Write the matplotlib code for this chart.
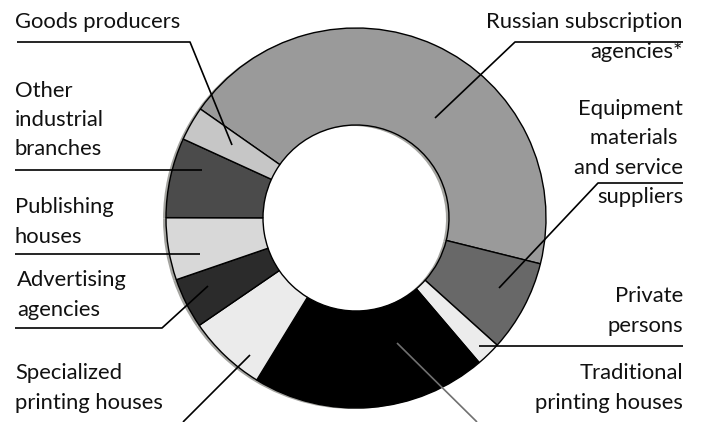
import matplotlib
matplotlib.use('Agg')
import matplotlib.pyplot as plt

labels = ['Russian subscription agencies*', 'Equipment materials and service suppliers',
          'Private persons', 'Traditional printing houses', 'Specialized printing houses',
          'Advertising agencies', 'Publishing houses', 'Other industrial branches',
          'Goods producers']
shares = [44.2, 7.8, 2.1, 20.0, 6.7, 4.3, 5.3, 6.8, 2.9]
colors = ['#9a9a9a', '#686868', '#ececec', '#000000', '#ebebeb',
          '#2b2b2b', '#d8d8d8', '#4b4b4b', '#c6c6c6']

W, H = 703, 422
fig = plt.figure(figsize=(W / 100, H / 100), dpi=100)
ax = fig.add_axes([0, 0, 1, 1])

cx, cy, r_out, r_in = 356, H - 218, 190, 93

def Y(y):  # image row -> data y
    return H - y

# soft shadow to the left of the ring
ax.pie(shares, colors=['#a4a4a0'] * len(shares), radius=r_out, center=(cx - 3, cy - 1),
       startangle=145, counterclock=False,
       wedgeprops=dict(width=r_out - r_in, linewidth=0))
ax.pie(shares, colors=colors, radius=r_out, center=(cx, cy),
       startangle=145, counterclock=False,
       wedgeprops=dict(width=r_out - r_in, edgecolor='black', linewidth=1.0))

ax.set_xlim(0, W)
ax.set_ylim(0, H)
ax.set_aspect('equal')
ax.axis('off')

font = dict(family='Lato', fontsize=15.8, color='#111111', linespacing=1.58)
lw = 1.2

def line(xs, ys, c='black'):
    ax.plot(xs, [Y(v) for v in ys], color=c, lw=lw, solid_capstyle='butt')

# left side
ax.text(15, Y(22), 'Goods producers', ha='left', va='center', **font)
line([17, 190, 232], [42, 42, 145])

ax.text(15, Y(120), 'Other\nindustrial\nbranches', ha='left', va='center', **font)
line([15, 202], [170, 170])

ax.text(15, Y(222), 'Publishing\nhouses', ha='left', va='center', **font)
line([15, 200], [254, 254])

ax.text(17, Y(295), 'Advertising\nagencies', ha='left', va='center', **font)
line([15, 162, 208], [328, 328, 286])

ax.text(15, Y(388), 'Specialized\nprinting houses', ha='left', va='center', **font)
line([183, 250], [422, 355])

# right side
ax.text(683, Y(37), 'Russian subscription\nagencies*', ha='right', va='center',
        multialignment='right', **font)
line([683, 515, 435], [42, 42, 118])

ax.text(683, Y(153), 'Equipment\nmaterials \nand service\nsuppliers', ha='right',
        va='center', multialignment='right', **font)
line([683, 598, 499], [183, 183, 288])

ax.text(683, Y(311), 'Private\npersons', ha='right', va='center',
        multialignment='right', **font)
line([683, 479], [346, 346])

ax.text(683, Y(388), 'Traditional\nprinting houses', ha='right', va='center',
        multialignment='right', **font)
line([477, 397], [422, 343], c='#707070')

fig.savefig('out.png', dpi=100, facecolor='white')
